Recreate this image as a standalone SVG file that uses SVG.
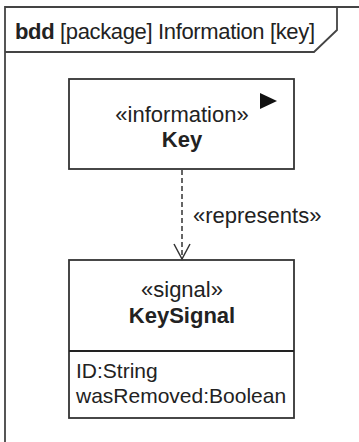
<svg xmlns="http://www.w3.org/2000/svg" width="359" height="442" viewBox="0 0 359 442">
<style>
text{font-family:"Liberation Sans",Arial,sans-serif;font-size:21px;fill:#222}
.b{font-weight:bold}
.c{text-anchor:middle}
.t{font-size:22px}
.box{fill:#fff;stroke:#333;stroke-width:1.8}
.frame{fill:none;stroke:#444;stroke-width:1.8}
.dep{fill:none;stroke:#333;stroke-width:1.5}
</style>
<defs>
<marker id="open" viewBox="0 0 18 18" refX="16" refY="9" markerWidth="18" markerHeight="18" markerUnits="userSpaceOnUse" orient="auto">
<path d="M1,1 L16,9 L1,17" fill="none" stroke="#333" stroke-width="1.5"/>
</marker>
</defs>
<g id="frame">
<path class="frame" d="M5,442 L5,7 L359,7"/>
<path class="frame" d="M5,52 L314,52 L337,30 L337,7"/>
<text class="t" x="15" y="39" textLength="300" lengthAdjust="spacing"><tspan class="b">bdd</tspan> [package] Information [key]</text>
</g>
<g id="Key">
<rect class="box" x="69" y="79" width="225" height="90"/>
<path d="M260,93 L277,101 L260,109 Z" fill="#111"/>
<text class="c t" x="182" y="122">«information»</text>
<text class="c b t" x="182" y="147">Key</text>
</g>
<g id="KeySignal">
<rect class="box" x="69" y="260" width="225" height="158"/>
<line x1="69" y1="351" x2="294" y2="351" stroke="#222" stroke-width="2"/>
<text class="c t" x="182" y="297">«signal»</text>
<text class="c b t" x="182" y="323">KeySignal</text>
<text x="76" y="378">ID:String</text>
<text x="76" y="403">wasRemoved:Boolean</text>
</g>
<g id="connectors">
<line class="dep" x1="182" y1="170" x2="182" y2="259" stroke-dasharray="5,3" marker-end="url(#open)"/>
<text class="t" x="193" y="223">«represents»</text>
</g>
</svg>
